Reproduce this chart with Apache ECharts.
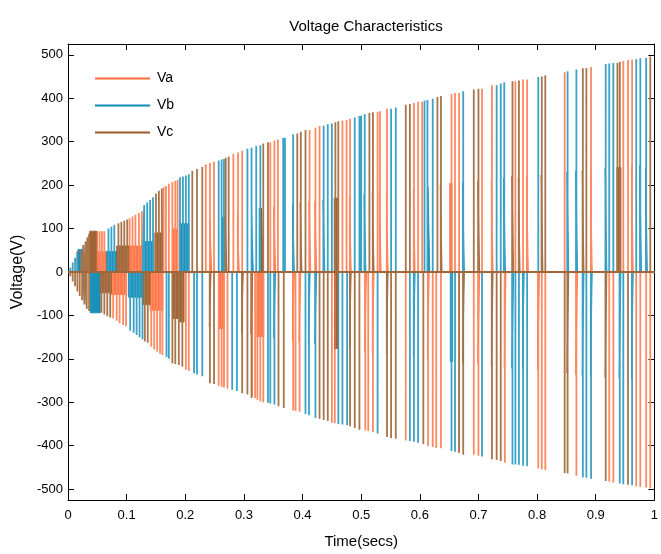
<!DOCTYPE html>
<html><head><meta charset="utf-8">
<script src="https://cdn.jsdelivr.net/npm/echarts@6/dist/echarts.min.js"></script>
<style>html,body{margin:0;padding:0;background:#fff}#c{width:661px;height:554px}</style>
</head><body><div id="c"></div>
<script>
// ---------- data ----------
const TITLE = 'Voltage Characteristics';
const X_NAME = 'Time(secs)';
const Y_NAME = 'Voltage(V)';
const SERIES_NAMES = ['Va', 'Vb', 'Vc'];
const X_TICKS = [0, 0.1, 0.2, 0.3, 0.4, 0.5, 0.6, 0.7, 0.8, 0.9, 1];
const Y_TICKS = [-500, -400, -300, -200, -100, 0, 100, 200, 300, 400, 500];

// full-level spikes [time, volts]
const VA_SPIKES = [
  [0.050,94],[0.054,94],[0.058,94],[0.062,94],
  [0.105,124],[0.110,128],[0.115,132],[0.121,136],[0.126,140],
  [0.163,195],[0.167,198],[0.172,203],[0.178,207],[0.183,210],[0.187,212],
  [0.235,248],[0.242,251],[0.249,254],
  [0.282,272],[0.290,275],[0.297,279],
  [0.345,299],[0.352,303],[0.358,305],
  [0.412,327],[0.422,332],[0.429,336],
  [0.468,349],[0.475,350],[0.481,353],
  [0.528,369],[0.532,370],[0.544,376],
  [0.590,389],[0.597,392],[0.604,392],
  [0.654,410],[0.660,412],[0.667,412],
  [0.706,422],[0.723,430],
  [0.763,439],[0.776,443],[0.783,443],
  [0.847,460],[0.892,472],
  [0.947,486],[0.955,489],[0.962,489],
  [0.077,-107],[0.083,-112],[0.088,-118],[0.094,-122],[0.099,-125],
  [0.142,-172],[0.147,-178],[0.152,-183],[0.157,-188],[0.161,-191],
  [0.201,-225],[0.206,-228],
  [0.257,-262],[0.262,-264],[0.266,-266],[0.272,-268],
  [0.314,-286],[0.319,-290],[0.323,-294],[0.328,-298],[0.333,-300],
  [0.384,-319],[0.388,-320],[0.395,-322],
  [0.450,-347],[0.455,-348],
  [0.507,-365],[0.512,-366],[0.520,-369],
  [0.576,-388],
  [0.614,-401],[0.622,-403],[0.628,-405],[0.636,-406],
  [0.667,-416],
  [0.692,-421],[0.700,-423],
  [0.745,-439],
  [0.802,-452],[0.808,-454],[0.814,-456],
  [0.867,-469],
  [0.923,-483],[0.930,-485],
  [0.969,-494],[0.976,-495],[0.986,-496],[0.993,-498]
];
// mid-level pulses [start, end, volts]
const VA_BLOCKS = [
  [0.015,0.022,47],[0.049,0.066,47],[0.104,0.128,60],[0.178,0.187,99],
  [0.242,0.245,122],[0.289,0.292,134],[0.351,0.354,150],[0.411,0.414,163],
  [0.421,0.424,163],[0.480,0.483,173],[0.531,0.534,183],[0.543,0.546,186],
  [0.589,0.592,192],[0.651,0.655,204],[0.722,0.725,212],[0.782,0.785,220],
  [0.891,0.894,237],[0.961,0.964,244],
  [0.074,0.100,-52],[0.140,0.162,-88],[0.257,0.266,-130],[0.322,0.334,-149],
  [0.383,0.386,-160],[0.394,0.397,-163],[0.506,0.509,-183],[0.519,0.522,-187],
  [0.613,0.616,-198],[0.699,0.702,-212],[0.744,0.747,-219],[0.801,0.804,-225],
  [0.866,0.869,-237]
];

const VB_SPIKES = [
  [0.004,10],[0.008,22],[0.012,33],[0.016,45],
  [0.069,100],[0.074,104],[0.079,108],
  [0.130,154],[0.135,160],[0.140,166],[0.145,172],
  [0.191,218],[0.196,220],[0.201,222],[0.206,225],
  [0.257,257],[0.262,259],[0.266,260],
  [0.306,284],[0.313,286],[0.321,290],[0.328,292],
  [0.367,309],[0.370,309],[0.384,317],
  [0.436,337],[0.443,340],[0.450,342],
  [0.489,356],[0.497,359],[0.500,360],[0.506,363],
  [0.551,376],[0.559,379],
  [0.608,395],[0.613,396],[0.622,399],
  [0.674,416],
  [0.731,430],[0.738,434],[0.744,437],
  [0.802,449],
  [0.852,462],[0.867,466],
  [0.917,479],[0.923,480],[0.930,481],
  [0.969,490],[0.976,492],[0.986,493],
  [0.106,-135],[0.112,-140],[0.117,-145],[0.122,-150],[0.127,-155],
  [0.168,-196],[0.172,-200],
  [0.215,-233],[0.220,-236],[0.229,-240],
  [0.280,-271],[0.288,-274],
  [0.341,-301],[0.345,-303],[0.352,-305],
  [0.405,-327],[0.411,-330],[0.422,-336],
  [0.461,-350],[0.468,-351],[0.476,-353],
  [0.528,-372],
  [0.583,-389],[0.590,-391],[0.597,-393],
  [0.654,-412],[0.660,-414],
  [0.706,-425],
  [0.758,-443],[0.763,-443],[0.769,-444],[0.776,-446],[0.783,-447],
  [0.878,-473],[0.884,-474],[0.892,-476],
  [0.941,-487],[0.947,-489],[0.962,-491]
];
const VB_BLOCKS = [
  [0.017,0.024,52],[0.066,0.083,47],[0.128,0.145,70],[0.191,0.206,111],
  [0.262,0.266,126],[0.313,0.316,141],[0.326,0.330,147],[0.383,0.386,156],
  [0.435,0.438,166],[0.505,0.508,179],[0.614,0.617,197],[0.673,0.676,206],
  [0.743,0.746,217],[0.851,0.854,229],[0.866,0.869,233],[0.916,0.919,240],
  [0.975,0.978,246],[0.985,0.988,240],
  [0.038,0.055,-94],[0.103,0.128,-58],[0.351,0.354,-153],[0.410,0.413,-166],
  [0.421,0.424,-166],[0.589,0.592,-195],[0.652,0.656,-206],[0.757,0.760,-222],
  [0.775,0.778,-222],[0.877,0.880,-237],[0.891,0.894,-240],[0.940,0.943,-244],
  [0.961,0.964,-246]
];

const VC_SPIKES = [
  [0.026,62],[0.030,70],[0.033,80],[0.036,88],
  [0.086,112],[0.091,115],[0.096,118],[0.101,121],
  [0.150,181],[0.155,187],[0.160,192],
  [0.212,233],[0.220,237],[0.229,242],
  [0.269,263],[0.274,266],
  [0.333,296],[0.341,299],
  [0.391,319],[0.397,323],[0.405,327],
  [0.456,345],[0.461,347],
  [0.514,366],[0.520,368],
  [0.576,385],[0.583,387],
  [0.630,403],[0.636,405],
  [0.692,420],[0.700,422],
  [0.758,439],[0.769,441],
  [0.808,450],[0.814,453],
  [0.878,469],[0.884,470],
  [0.937,482],[0.941,484],
  [0.993,496],
  [0.004,-10],[0.008,-22],[0.012,-33],[0.016,-45],
  [0.020,-55],[0.024,-65],[0.028,-75],[0.032,-85],[0.036,-90],
  [0.057,-94],[0.062,-98],[0.067,-102],[0.072,-105],
  [0.131,-160],[0.136,-163],
  [0.178,-210],[0.183,-212],[0.189,-214],[0.195,-218],
  [0.242,-256],[0.249,-258],
  [0.297,-279],[0.306,-282],[0.313,-290],
  [0.359,-309],[0.368,-313],
  [0.429,-338],[0.436,-341],[0.443,-343],
  [0.481,-355],[0.489,-359],[0.497,-363],
  [0.544,-380],[0.551,-382],[0.559,-384],
  [0.606,-396],
  [0.667,-416],[0.674,-421],
  [0.723,-431],[0.731,-433],[0.738,-435],
  [0.847,-463],[0.852,-464],
  [0.917,-481],
  [0.955,-490]
];
const VC_BLOCKS = [
  [0.037,0.049,94],[0.083,0.104,60],[0.148,0.161,90],[0.268,0.271,130],
  [0.330,0.333,147],[0.396,0.399,160],[0.454,0.460,170],[0.519,0.522,183],
  [0.635,0.638,200],[0.699,0.702,210],[0.757,0.760,220],[0.768,0.771,217],
  [0.807,0.810,223],[0.877,0.880,233],[0.936,0.943,241],
  [0.055,0.074,-48],[0.128,0.140,-75],[0.178,0.190,-107],[0.191,0.198,-115],
  [0.241,0.244,-126],[0.296,0.299,-141],[0.312,0.315,-143],[0.455,0.460,-176],
  [0.480,0.483,-176],[0.543,0.546,-189],[0.673,0.676,-210],[0.722,0.725,-216],
  [0.851,0.854,-233],[0.916,0.919,-243]
];

// ---------- build ----------
const COLORS = ['#FF6A3A', '#0E8BB5', '#9A5B2A'];
const SPIKE_COLORS = ['#FF8A62', '#3AA2C6', '#A8744A'];
const FONT = '"Liberation Sans",Arial,Helvetica,sans-serif';

function spikePath(sp) {
  const s = sp.slice().sort((a, b) => a[0] - b[0]);
  const pts = [[0, 0]];
  s.forEach(([t, v]) => { pts.push([t, 0], [t, v], [t, 0]); });
  pts.push([1, 0]);
  return pts;
}
function blockPath(bl) {
  const s = bl.slice().sort((a, b) => a[0] - b[0]);
  const pts = [[0, 0]];
  s.forEach(([a, b, v]) => { pts.push([a, 0], [a, v], [b, v], [b, 0]); });
  pts.push([1, 0]);
  return pts;
}
const SPIKES = [VA_SPIKES, VB_SPIKES, VC_SPIKES];
const BLOCKS = [VA_BLOCKS, VB_BLOCKS, VC_BLOCKS];
const series = [];
for (let i = 0; i < 3; i++) {
  series.push({
    name: SERIES_NAMES[i], type: 'line', data: blockPath(BLOCKS[i]),
    showSymbol: false, symbol: 'none', color: COLORS[i],
    lineStyle: { width: 0.8, color: COLORS[i] },
    areaStyle: { color: COLORS[i], opacity: 0.95 },
    silent: true
  });
  series.push({
    name: SERIES_NAMES[i], type: 'line', data: spikePath(SPIKES[i]),
    showSymbol: false, symbol: 'none', color: COLORS[i],
    lineStyle: { width: 1.8, color: SPIKE_COLORS[i] },
    silent: true
  });
}
// zero line drawn by the last phase on top
series.push({
  name: SERIES_NAMES[2], type: 'line', data: [[0, 0], [1, 0]],
  showSymbol: false, symbol: 'none', color: COLORS[2],
  lineStyle: { width: 2, color: '#A0663A' }, silent: true
});

const chart = echarts.init(document.getElementById('c'), null, { renderer: 'canvas' });
const axisLineStyle = { color: '#000', width: 1 };
chart.setOption({
  animation: false,
  backgroundColor: '#fff',
  title: {
    text: TITLE, left: 361, top: 14, textAlign: 'center',
    textStyle: { fontFamily: FONT, fontSize: 15, fontWeight: 'normal', color: '#000' }
  },
  legend: {
    data: SERIES_NAMES, orient: 'vertical', left: 95, top: 70, padding: 0,
    icon: 'rect', itemWidth: 55, itemHeight: 2, itemGap: 10,
    textStyle: { fontFamily: FONT, fontSize: 14, color: '#000', lineHeight: 17, padding: [0, 0, 0, 2] }
  },
  grid: { left: 68, right: 6, top: 44, bottom: 50, containLabel: false, show: false },
  xAxis: [{
    type: 'value', min: 0, max: 1, interval: 0.1, position: 'bottom',
    name: X_NAME, nameLocation: 'middle', nameGap: 34,
    nameTextStyle: { fontFamily: FONT, fontSize: 15, color: '#000' },
    axisLine: { show: true, onZero: false, lineStyle: axisLineStyle },
    axisTick: { show: true, inside: true, length: 6, lineStyle: axisLineStyle, customValues: X_TICKS },
    axisLabel: { fontFamily: FONT, fontSize: 13, color: '#000', margin: 9, customValues: X_TICKS,
      formatter: v => String(Math.round(v * 10) / 10) },
    splitLine: { show: false }
  }, {
    type: 'value', min: 0, max: 1, interval: 0.1, position: 'top',
    axisLine: { show: true, onZero: false, lineStyle: axisLineStyle },
    axisTick: { show: true, inside: true, length: 6, lineStyle: axisLineStyle, customValues: X_TICKS },
    axisLabel: { show: false },
    splitLine: { show: false }
  }],
  yAxis: [{
    type: 'value', min: -525, max: 525, position: 'left',
    name: Y_NAME, nameLocation: 'middle', nameGap: 40, nameRotate: 90,
    nameTextStyle: { fontFamily: FONT, fontSize: 16, color: '#000' },
    axisLine: { show: true, onZero: false, lineStyle: axisLineStyle },
    axisTick: { show: true, inside: true, length: 6, lineStyle: axisLineStyle, customValues: Y_TICKS },
    axisLabel: { fontFamily: FONT, fontSize: 13, color: '#000', margin: 5, customValues: Y_TICKS },
    splitLine: { show: false }
  }, {
    type: 'value', min: -525, max: 525, position: 'right',
    axisLine: { show: true, onZero: false, lineStyle: axisLineStyle },
    axisTick: { show: true, inside: true, length: 6, lineStyle: axisLineStyle, customValues: Y_TICKS },
    axisLabel: { show: false },
    splitLine: { show: false }
  }],
  series: series
});
</script></body></html>
